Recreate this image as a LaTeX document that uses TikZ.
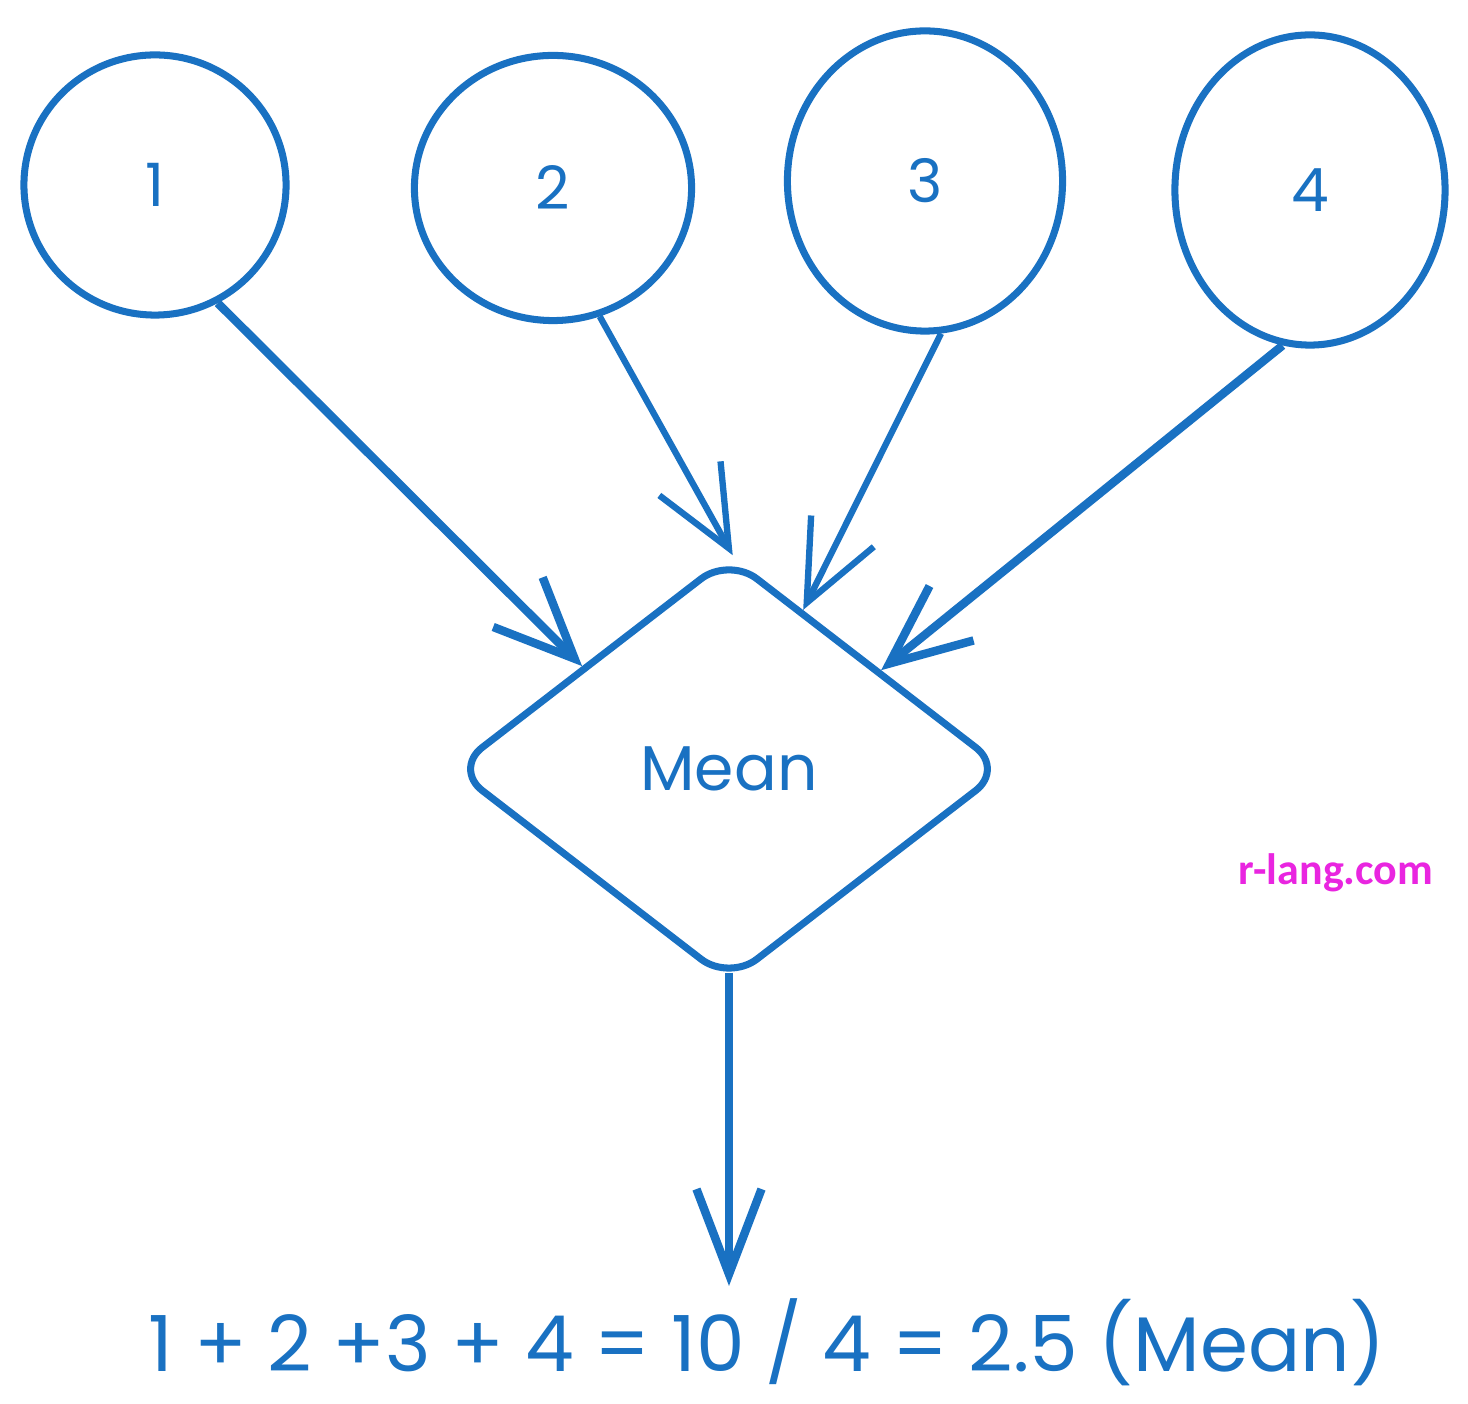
\documentclass[tikz,border=0pt]{standalone}
\usepackage{fontspec}
\setmainfont{Poppins}
\newfontfamily\webfont{Carlito}
\usetikzlibrary{shapes.geometric,arrows.meta}
\definecolor{sketchblue}{HTML}{1971C2}
\definecolor{webpink}{HTML}{E925E0}
\tikzset{
  circ/.style={ellipse, draw=sketchblue, line width=2pt, text=sketchblue,
    font=\fontsize{17}{19}\selectfont, inner sep=0pt},
  meanbox/.style={diamond, draw=sketchblue, line width=2pt, rounded corners=10pt,
    text=sketchblue, font=\fontsize{18}{22}\selectfont,
    minimum width=5.52cm, minimum height=4.26cm, aspect=1.3, inner sep=0pt},
  flow/.style={draw=sketchblue, line width=#1,
    -{Straight Barb[length=8mm, width=7mm, line width=#1]}},
  flow/.default=2pt,
  downflow/.style={draw=sketchblue, line width=2.4pt, shorten <=-0.13cm,
    -{Straight Barb[length=8.5mm, width=6.5mm, line width=2.4pt]}},
  eqtext/.style={text=sketchblue, font=\fontsize{22}{26}\selectfont},
  webtext/.style={text=webpink, font=\webfont\bfseries\fontsize{12.5}{15}\selectfont},
}
\begin{document}
\begin{tikzpicture}[x=0.01cm, y=-0.01cm]
  \useasboundingbox[fill=white] (0,0) rectangle (1468,1404);
  \node[circ, minimum width=2.62cm, minimum height=2.6cm] (c1) at (155,185) {1};
  \node[circ, minimum width=2.77cm, minimum height=2.65cm] (c2) at (553,188) {2};
  \node[circ, minimum width=2.75cm, minimum height=3.0cm] (c3) at (925,181) {3};
  \node[circ, minimum width=2.7cm, minimum height=3.1cm] (c4) at (1310,190) {4};
  \node[meanbox] (mean) at (729,769) {Mean};
  \node[eqtext] (eq) at (767,1342) {1 + 2 +3 + 4 = 10 / 4 = 2.5 (Mean)};
  \node[webtext] (web) at (1336,873) {r-lang.com};
  \draw[flow=2.4pt] (c1.-62) -- (mean.145);
  \draw[flow=1.8pt] (c2.-70) -- (mean.89);
  \draw[flow=1.8pt] (c3.-84) -- (mean.65);
  \draw[flow=2.4pt] (c4.-100) -- (mean.33);
  \draw[downflow] (mean.south) -- (mean.south |- eq.north);
\end{tikzpicture}
\end{document}
